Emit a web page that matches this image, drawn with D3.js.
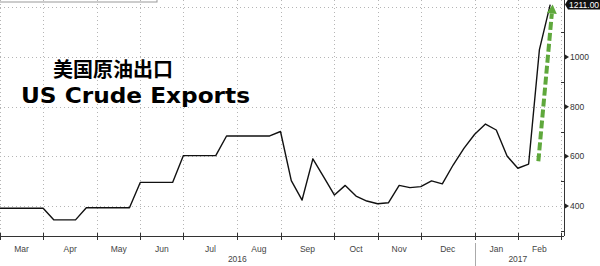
<!DOCTYPE html>
<html>
<head>
<meta charset="utf-8">
<script src="https://cdn.jsdelivr.net/npm/d3@7"></script>
<style>
html,body{margin:0;padding:0;background:#fff;}
svg{display:block;}
</style>
</head>
<body>
<svg id="chart" width="600" height="266"></svg>
<script>
// Weekly US crude exports (thousand barrels/day), week-ending Fridays
const startDate = "2016-03-04";
const values = [391,391,391,391,391,344,344,344,393,393,393,393,393,495,495,495,495,603,603,603,603,682,682,682,682,682,700,502,424,590,517,444,483,440,420,409,413,483,474,478,501,489,565,632,689,730,706,601,552,569,1030,1211];
const yTicks = [400,600,800,1000,1200];
const yLabelTicks = [400,600,800,1000];
const yMinorTicks = [300,500,700,900,1100];
const lastLabel = "1211.00";
const titleCN = "美国原油出口";
const titleEN = "US Crude Exports";

const parse = d3.timeParse("%Y-%m-%d");
const t0 = parse(startDate);
const dates = values.map((v,i)=>d3.timeWeek.offset(t0,i));
const data = values.map((v,i)=>({i, date:dates[i], v}));

const svg = d3.select("#chart");
const x = d3.scaleLinear().domain([0,52]).range([0,561]);
const y = d3.scaleLinear().domain([400,1000]).range([206,57]);
const plotRight = 564, plotBottom = 236;

// month boundaries (first weekly point in each month), incl. one week past data
const allDates = d3.range(53).map(i=>d3.timeWeek.offset(t0,i));
const monthStarts = [];
allDates.forEach((d,i)=>{ if(i===0 || d.getMonth()!==allDates[i-1].getMonth()) monthStarts.push({i, date:d}); });

// top-left legend box remnant
svg.append("rect").attr("x",-2).attr("y",-20).attr("width",159).attr("height",22)
  .attr("fill","none").attr("stroke","#999").attr("stroke-width",1);

// gridlines
const grid = svg.append("g").attr("stroke","#b5b5b5").attr("stroke-dasharray","1,3").attr("stroke-width",1);
yTicks.forEach(t=>{
  grid.append("line").attr("x1",0).attr("x2",plotRight).attr("y1",Math.round(y(t))+0.5).attr("y2",Math.round(y(t))+0.5);
});
monthStarts.forEach(m=>{
  const xx = Math.round(x(m.i))+0.5;
  grid.append("line").attr("x1",xx).attr("x2",xx).attr("y1",0).attr("y2",plotBottom);
});

// x axis
const xa = svg.append("g");
xa.append("line").attr("x1",0).attr("x2",plotRight).attr("y1",plotBottom+0.5).attr("y2",plotBottom+0.5).attr("stroke","#333");
monthStarts.forEach(m=>{
  const xx = Math.round(x(m.i))+0.5;
  xa.append("line").attr("x1",xx).attr("x2",xx).attr("y1",plotBottom-3).attr("y2",plotBottom+4).attr("stroke","#333");
});
const fmtMonth = d3.timeFormat("%b");
for(let k=0;k<monthStarts.length-1;k++){
  const a = monthStarts[k], b = monthStarts[k+1];
  xa.append("text").attr("x",(x(a.i)+x(b.i))/2).attr("y",252)
    .attr("text-anchor","middle").attr("font-family","Liberation Sans, Arial, sans-serif")
    .attr("font-size",8.5).attr("fill","#444").text(fmtMonth(a.date));
}
// years
const janIdx = monthStarts.find(m=>m.date.getMonth()===0).i;
const lastIdx = monthStarts[monthStarts.length-1].i;
xa.append("line").attr("x1",Math.round(x(janIdx))+0.5).attr("x2",Math.round(x(janIdx))+0.5)
  .attr("y1",243).attr("y2",266).attr("stroke","#aaa");
[[0,janIdx,"2016"],[janIdx,lastIdx,"2017"]].forEach(([a,b,lab])=>{
  xa.append("text").attr("x",(x(a)+x(b))/2).attr("y",262).attr("text-anchor","middle")
    .attr("font-family","Liberation Sans, Arial, sans-serif").attr("font-size",8.5).attr("fill","#444").text(lab);
});

// right axis
const ya = svg.append("g");
ya.append("line").attr("x1",plotRight+0.5).attr("x2",plotRight+0.5).attr("y1",0).attr("y2",plotBottom).attr("stroke","#333");
yLabelTicks.forEach(t=>{
  const yy = y(t);
  ya.append("path").attr("d",`M${plotRight+1},${yy-2.5}L${plotRight+5},${yy}L${plotRight+1},${yy+2.5}Z`).attr("fill","#222");
  ya.append("text").attr("x",plotRight+6).attr("y",yy).attr("dy","0.35em")
    .attr("font-family","Liberation Sans, Arial, sans-serif").attr("font-size",8.5).attr("fill","#333").text(t);
});
yMinorTicks.forEach(t=>{
  const yy = Math.round(y(t))+0.5;
  ya.append("line").attr("x1",plotRight-3).attr("x2",plotRight).attr("y1",yy).attr("y2",yy).attr("stroke","#333");
});

// data line
const line = d3.line().x(d=>x(d.i)).y(d=>y(d.v));
svg.append("path").datum(data).attr("d",line).attr("fill","none")
  .attr("stroke","#111").attr("stroke-width",1.4).attr("stroke-linejoin","round");

// last value label
const last = data[data.length-1];
const ly = y(last.v);
const lg = svg.append("g");
lg.append("path").attr("d",`M${plotRight+1},${ly}L${plotRight+4},${ly-5}L600,${ly-5}L600,${ly+5}L${plotRight+4},${ly+5}Z`).attr("fill","#111");
lg.append("text").attr("x",plotRight+5).attr("y",ly).attr("dy","0.35em")
  .attr("font-family","Liberation Sans, Arial, sans-serif").attr("font-size",8.5).attr("fill","#fff").text(lastLabel);

// green dashed arrow annotation
const ax1 = x(49.9), ay1 = y(580), ax2 = x(51.15), ay2 = y(1175);
svg.append("line").attr("x1",ax1).attr("y1",ay1).attr("x2",ax2).attr("y2",ay2)
  .attr("stroke","#5fa83c").attr("stroke-width",4).attr("stroke-dasharray","8,3");
const ang = Math.atan2(ay2-ay1, ax2-ax1);
const tipX = ax2 + Math.cos(ang)*9, tipY = ay2 + Math.sin(ang)*9;
const px = -Math.sin(ang), py = Math.cos(ang);
svg.append("path").attr("d",`M${tipX},${tipY}L${ax2+px*5},${ay2+py*5}L${ax2-px*5},${ay2-py*5}Z`).attr("fill","#5fa83c");

// titles
svg.append("text").attr("x",53).attr("y",77).attr("font-family","Noto Sans CJK SC, sans-serif")
  .attr("font-weight","bold").attr("font-size",20).attr("fill","#000").text(titleCN);
svg.append("text").attr("x",21).attr("y",103).attr("font-family","DejaVu Sans, sans-serif")
  .attr("font-weight","bold").attr("font-size",22).attr("textLength",229).attr("lengthAdjust","spacingAndGlyphs")
  .attr("fill","#000").text(titleEN);
</script>
</body>
</html>
